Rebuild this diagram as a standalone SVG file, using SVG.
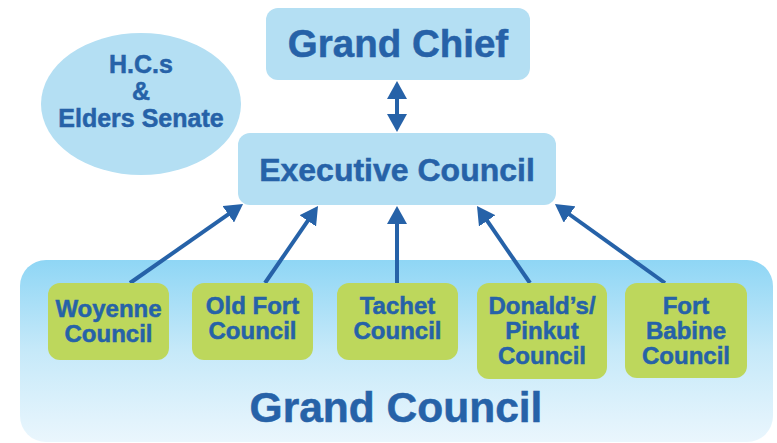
<svg xmlns="http://www.w3.org/2000/svg" width="777" height="443" viewBox="0 0 777 443">
  <style>
    text { font-family: "Liberation Sans", Arial, sans-serif; font-weight: bold; fill: #2662a8; stroke: #2662a8; stroke-width: 0.5; text-anchor: middle; }
    .top { fill: #b4dff3; }
    .green { fill: #bdd75c; }
    .conn { stroke: #2662a8; stroke-width: 4; fill: none; }
    .t-big { font-size: 38.5px; }
    .t-exec { font-size: 32px; }
    .t-ell { font-size: 25px; }
    .t-node { font-size: 24px; }
    .t-gc { font-size: 42.5px; }
  </style>
  <defs>
    <linearGradient id="gcGrad" x1="0" y1="0" x2="0" y2="1">
      <stop offset="0" stop-color="#8fd6f5"/>
      <stop offset="0.5" stop-color="#c6e9f9"/>
      <stop offset="1" stop-color="#eaf6fd"/>
    </linearGradient>
    <marker id="ah" viewBox="0 0 18 20" refX="6" refY="10" markerWidth="18" markerHeight="20" orient="auto-start-reverse" markerUnits="userSpaceOnUse">
      <path d="M0,0 L18,10 L0,20 Z" fill="#2662a8"/>
    </marker>
  </defs>

  <g id="grand-council">
    <rect x="20" y="260" width="753" height="182" rx="26" fill="url(#gcGrad)"/>
    <text class="t-gc" x="396" y="422">Grand Council</text>
  </g>

  <g id="elders-senate">
    <ellipse cx="141" cy="104" rx="100" ry="71" class="top"/>
    <text class="t-ell" x="141" y="73">H.C.s</text>
    <text class="t-ell" x="141" y="100">&amp;</text>
    <text class="t-ell" x="141" y="127">Elders Senate</text>
  </g>

  <g id="grand-chief">
    <rect x="266" y="8" width="264" height="72" rx="12" class="top"/>
    <text class="t-big" x="398" y="57">Grand Chief</text>
  </g>

  <g id="executive-council">
    <rect x="238" y="133" width="318" height="72" rx="12" class="top"/>
    <text class="t-exec" x="397" y="181">Executive Council</text>
  </g>

  <g id="connectors">
    <line class="conn" x1="397" y1="93" x2="397" y2="120" marker-start="url(#ah)" marker-end="url(#ah)"/>
    <line class="conn" x1="130" y1="283" x2="233.2" y2="210.9" marker-end="url(#ah)"/>
    <line class="conn" x1="265" y1="283" x2="311.2" y2="215.9" marker-end="url(#ah)"/>
    <line class="conn" x1="397" y1="283" x2="397" y2="218" marker-end="url(#ah)"/>
    <line class="conn" x1="530" y1="283" x2="483.8" y2="215.9" marker-end="url(#ah)"/>
    <line class="conn" x1="665" y1="283" x2="564.7" y2="211" marker-end="url(#ah)"/>
  </g>

  <g id="woyenne">
    <rect x="48" y="283" width="121" height="77" rx="12" class="green"/>
    <text class="t-node" x="108.5" y="317">Woyenne</text>
    <text class="t-node" x="108.5" y="342">Council</text>
  </g>

  <g id="old-fort">
    <rect x="192" y="283" width="121" height="77" rx="12" class="green"/>
    <text class="t-node" x="252.5" y="314">Old Fort</text>
    <text class="t-node" x="252.5" y="339">Council</text>
  </g>

  <g id="tachet">
    <rect x="337" y="283" width="121" height="77" rx="12" class="green"/>
    <text class="t-node" x="397.5" y="314">Tachet</text>
    <text class="t-node" x="397.5" y="339">Council</text>
  </g>

  <g id="donalds-pinkut">
    <rect x="477" y="283" width="130" height="96" rx="12" class="green"/>
    <text class="t-node" x="542" y="314">Donald’s/</text>
    <text class="t-node" x="542" y="339">Pinkut</text>
    <text class="t-node" x="542" y="364">Council</text>
  </g>

  <g id="fort-babine">
    <rect x="625" y="283" width="122" height="95" rx="12" class="green"/>
    <text class="t-node" x="686" y="314">Fort</text>
    <text class="t-node" x="686" y="339">Babine</text>
    <text class="t-node" x="686" y="364">Council</text>
  </g>
</svg>
